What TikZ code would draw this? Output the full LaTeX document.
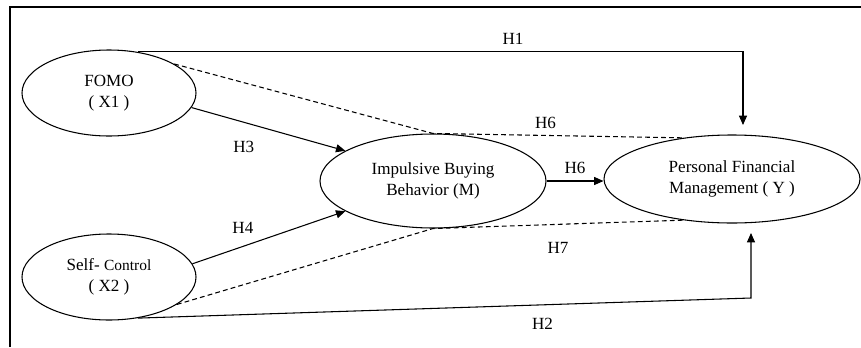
\documentclass[tikz,border=0pt]{standalone}
\usepackage{fontspec}
\setmainfont{Liberation Serif}
\usetikzlibrary{arrows.meta, positioning, shapes}

\begin{document}
\begin{tikzpicture}[
    x=0.75pt, y=-0.75pt,
    line width=0.8pt,
    var/.style={ellipse, draw, align=center, inner sep=1pt, font=\fontsize{12.8}{15.5}\selectfont},
    arrow/.style={-{Triangle[length=7pt, width=6pt]}},
    indirect/.style={dash pattern=on 3.6pt off 2.4pt},
    hyp/.style={inner sep=1pt, font=\fontsize{12.8}{15}\selectfont}
  ]
    \useasboundingbox (0,0) rectangle (861,347);
    \draw (10,347) -- (10,7) -- (861,7);

    \node[var, minimum width=130.5pt, minimum height=64.5pt] (fomo) at (109,93) {FOMO\\( X1 )};
    \node[var, minimum width=130.5pt, minimum height=64.5pt] (self) at (109,277) {Self- {\fontsize{11.6}{15.5}\selectfont Control}\\( X2 )};
    \node[var, minimum width=169.5pt, minimum height=70.5pt] (imp) at (433,181) {Impulsive Buying\\Behavior (M)};
    \node[var, minimum width=192pt, minimum height=66pt] (pers) at (732,179) {Personal Financial\\Management ( Y )};

    \coordinate (h1end) at (743,125);
    \coordinate (h2bend) at (751,298);
    \coordinate (h2end) at (751,233);

    \draw[arrow] (fomo.55) -| node[hyp, pos=0.31, above=4.5pt] {H1} (h1end);
    \draw[arrow] (self.-55) -- node[hyp, pos=0.66, below=8.5pt] {H2} (h2bend) -- (h2end);
    \draw[arrow] (fomo.-10) -- node[hyp, pos=0.34, below=12.8pt] {H3} (imp.161);
    \draw[arrow] (self.9) -- node[hyp, pos=0.33, above=8.3pt] {H4} (imp.-161);
    \draw[arrow] (imp.east) -- node[hyp, above=3.8pt] {H6} (imp.east -| pers.west);

    \draw[indirect] (fomo.24) -- (imp.north) -- node[hyp, pos=0.45, above=3.8pt] {H6} (pers.140);
    \draw[indirect] (self.-22) -- (imp.south) -- node[hyp, pos=0.5, below=12pt] {H7} (pers.-140);
  \end{tikzpicture}
\end{document}
